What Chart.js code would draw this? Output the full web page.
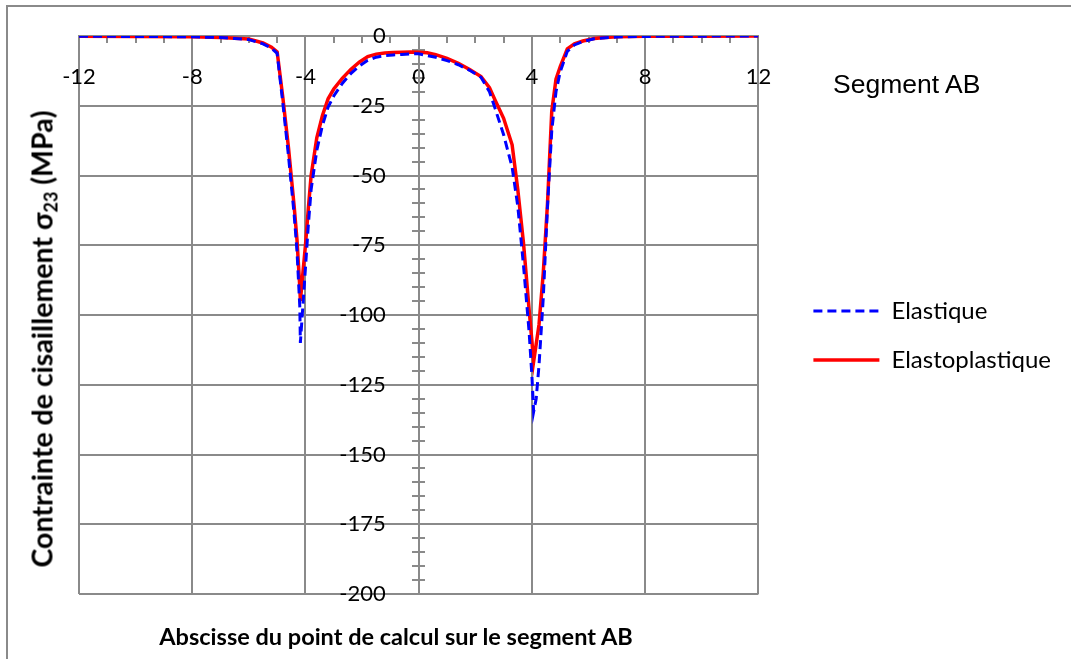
<!DOCTYPE html>
<html>
<head>
<meta charset="utf-8">
<script src="https://cdn.jsdelivr.net/npm/chart.js@4.4.1/dist/chart.umd.min.js"></script>
<style>
  html, body { margin: 0; padding: 0; background: #fff; overflow: hidden; }
  #wrap { position: relative; width: 1071px; height: 659px; }
  #frame { position: absolute; left: 6px; top: 5px; width: 1200px; height: 800px;
           border-left: 2px solid #8a8a8a; border-top: 2px solid #8a8a8a; }
  #chart { position: absolute; left: 0; top: 0; }
  .lbl { position: absolute; white-space: nowrap; color: #000; }
  #ytitle { left: 43px; top: 339px; transform: translate(-50%, -50%) rotate(-90deg);
            font: bold 28.5px Lato, sans-serif; }
  #ytitle sub { font-size: 18px; vertical-align: -5px; }
  #xtitle { left: 396px; top: 636px; transform: translate(-50%, -50%);
            font: bold 23.5px Lato, sans-serif; }
  #seg { left: 833px; top: 69px; font: 26.5px "Liberation Sans", Arial, sans-serif; }
</style>
</head>
<body>
<div id="wrap">
  <div id="frame"></div>
  <canvas id="chart" width="1071" height="659"></canvas>
  <div class="lbl" id="ytitle">Contrainte de cisaillement σ<sub>23</sub> (MPa)</div>
  <div class="lbl" id="xtitle">Abscisse du point de calcul sur le segment AB</div>
  <div class="lbl" id="seg">Segment AB</div>
</div>
<script>
// abscisse le long du segment AB
var abscisses = [-12, -10, -8, -7, -6.5, -6, -5.5, -5.2, -5.0, -4.8,
                 -4.6, -4.4, -4.3, -4.2, -4.18, -4.1, -4.0, -3.9, -3.8, -3.6,
                 -3.4, -3.2, -3.0, -2.7, -2.4, -2.1, -1.8, -1.5, -1.2, -0.9,
                 -0.6, -0.3, 0, 0.3, 0.6, 1.0, 1.4, 1.8, 2.2, 2.5,
                 2.7, 3.0, 3.3, 3.5, 3.7, 3.9, 4.0, 4.06, 4.15, 4.25,
                 4.4, 4.55, 4.7, 4.85, 5.0, 5.25, 5.5, 5.8, 6.2, 6.6,
                 7, 8, 10, 12];

var elastique = [-0.1, -0.15, -0.3, -0.55, -0.9, -1.3, -2.8, -4.4, -6.2, -24,
                 -43, -64, -77, -97, -110, -98, -83, -68, -55, -41,
                 -32, -25.5, -21.5, -17, -13.5, -10.8, -8.7, -7.6, -7.0, -6.8,
                 -6.6, -6.4, -6.4, -7.0, -7.6, -8.8, -10.3, -12.3, -14.8, -20,
                 -26, -35.4, -47, -61, -82, -106, -122, -134.7, -130, -118,
                 -94, -61, -34, -20, -12.8, -5.5, -3.2, -2.0, -1.0, -0.6,
                 -0.35, -0.15, -0.05, 0];

var elastoplastique = [-0.1, -0.15, -0.3, -0.5, -0.8, -1.1, -2.5, -4.0, -5.7, -22,
                       -40, -61, -73, -90, -95, -86, -75, -62, -50, -36.5,
                       -28.5, -22.5, -19, -15.2, -12, -9.4, -7.4, -6.5, -6.1, -5.9,
                       -5.8, -5.7, -5.8, -6.0, -6.7, -8.0, -9.8, -12, -14.5, -18.5,
                       -23, -29.5, -39, -55, -74, -98, -109.5, -116.7, -110.5, -103.5,
                       -85, -60, -27, -15.5, -11, -4.6, -2.8, -1.8, -0.9, -0.5,
                       -0.3, -0.1, -0.05, 0];

var seriesNames = ['Elastique', 'Elastoplastique'];

const GRID = '#8a8a8a';

toPoints = (ys) => abscisses.map((x, i) => ({ x: x, y: ys[i] }));

noPad = (scale) => {
    scale.paddingLeft = 0; scale.paddingRight = 0;
    scale.paddingTop = 0; scale.paddingBottom = 0;
};

// legend lines take the dash of the dataset, not of the point
legendLabels = (chart) => {
    var items = Chart.defaults.plugins.legend.labels.generateLabels(chart);
    items.forEach((it) => {
        var ds = chart.data.datasets[it.datasetIndex];
        it.lineDash = ds.borderDash || [];
        it.lineWidth = ds.borderWidth;
        it.strokeStyle = ds.borderColor;
    });
    return items;
};

new Chart(document.getElementById('chart'), {
    type: 'line',
    data: {
        datasets: [{
            label: seriesNames[0],
            data: toPoints(elastique),
            borderColor: '#0000ff',
            backgroundColor: '#0000ff',
            borderWidth: 3,
            borderDash: [9, 5],
            pointRadius: 0,
            tension: 0
        }, {
            label: seriesNames[1],
            data: toPoints(elastoplastique),
            borderColor: '#ff0000',
            backgroundColor: '#ff0000',
            borderWidth: 3.5,
            pointRadius: 0,
            tension: 0
        }]
    },
    options: {
        responsive: false,
        animation: false,
        devicePixelRatio: 1,
        layout: { padding: { left: 79, top: 36, bottom: 65, right: 10 } },
        plugins: {
            tooltip: { enabled: false },
            legend: {
                position: 'right',
                align: 'start',
                maxWidth: 400,
                title: { display: true, text: '', font: { size: 10, lineHeight: 1 }, padding: { top: 228, bottom: 0 } },
                labels: {
                    usePointStyle: true,
                    pointStyle: 'line',
                    pointStyleWidth: 66,
                    padding: 25,
                    color: '#000',
                    font: { family: 'Lato', size: 24 },
                    generateLabels: legendLabels
                }
            }
        },
        scales: {
            x: {
                type: 'linear',
                min: -12, max: 12,
                position: { y: 0 },
                afterFit: noPad,
                ticks: {
                    stepSize: 1,
                    autoSkip: false,
                    maxRotation: 0,
                    padding: 22,
                    color: '#000',
                    font: { family: 'Lato', size: 22 },
                    callback: (v) => (v % 4 === 0 ? v : '')
                },
                grid: {
                    color: (c) => (c.tick && c.tick.value % 4 === 0 ? GRID : 'rgba(0,0,0,0)'),
                    tickColor: GRID,
                    lineWidth: 2,
                    tickLength: 6
                },
                border: { color: GRID, width: 2 }
            },
            y: {
                min: -200, max: 0,
                position: { x: 0 },
                afterFit: noPad,
                ticks: {
                    stepSize: 5,
                    autoSkip: false,
                    color: '#000',
                    font: { family: 'Lato', size: 22 },
                    // labels sit a little left of the axis line
                    callback: (v) => (v % 25 === 0 ? v + '\u2003\u2002\u2009\u2009' : '')
                },
                grid: {
                    color: (c) => (c.tick && c.tick.value % 25 === 0 ? GRID : 'rgba(0,0,0,0)'),
                    tickColor: GRID,
                    lineWidth: 2,
                    tickLength: 6
                },
                border: { color: GRID, width: 2 }
            },
            // right half of the crossing minor ticks on the vertical axis
            yMinor: {
                axis: 'y',
                min: -200, max: 0,
                position: { x: 0 },
                afterFit: noPad,
                ticks: { display: false, stepSize: 5, autoSkip: false },
                grid: {
                    drawOnChartArea: false,
                    color: GRID,
                    tickColor: GRID,
                    lineWidth: 2,
                    tickLength: -6
                },
                border: { display: false }
            },
            gap: {
                position: 'right',
                display: true,
                afterFit: (s) => { s.width = 30; },
                ticks: { display: false },
                grid: { display: false },
                border: { display: false }
            }
        }
    }
});
</script>
</body>
</html>
